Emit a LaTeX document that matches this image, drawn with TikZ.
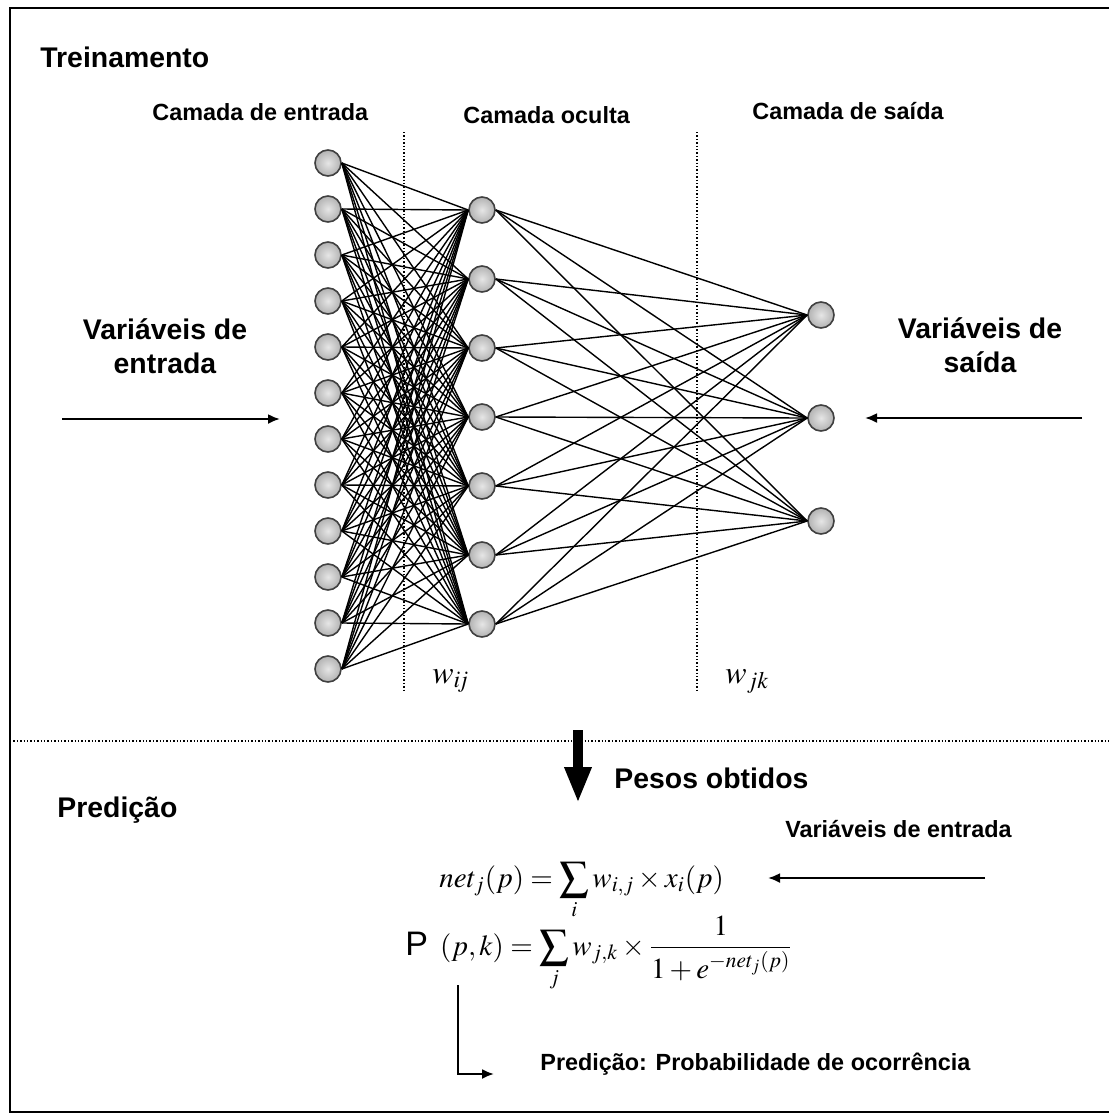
\documentclass[tikz,border=0pt]{standalone}
\usepackage{mathptmx}
\usepackage[no-math]{fontspec}
\newfontfamily\hf{Liberation Sans}
\usetikzlibrary{arrows.meta}
\tikzset{
  neuron/.style={circle, minimum size=13pt, inner sep=0pt, draw=black!75, line width=0.8pt,
    inner color=gray!20, outer color=gray!60},
  edge/.style={line width=0.7pt, black},
  sep/.style={densely dotted, line width=0.7pt},
  arr/.style={line width=1.1pt, -{Latex[length=6pt,width=5pt]}},
  big/.style={font=\hf\bfseries\fontsize{14.2}{17}\selectfont, inner sep=0pt, align=center},
  small/.style={font=\hf\bfseries\fontsize{11.7}{14}\selectfont, inner sep=0pt},
  frm/.style={font=\fontsize{14.5}{17}\selectfont, inner sep=0pt},
  wlab/.style={font=\fontsize{16}{18}\selectfont, inner sep=0pt},
}
\begin{document}
\begin{tikzpicture}[x=0.5pt,y=-0.5pt]
\useasboundingbox (0,0) rectangle (1109,1120);
\clip (0,0) rectangle (1109,1120);
\fill[white] (0,0) rectangle (1109,1120);
\draw[line width=1pt] (10,8) rectangle (1125,1112);

% separators
\coordinate (s1t) at (404,132); \coordinate (s1b) at (404,692);
\coordinate (s2t) at (697,132); \coordinate (s2b) at (697,692);
\draw[sep] (s1t) -- (s1b);
\draw[sep] (s2t) -- (s2b);
\coordinate (hl) at (10,741); \coordinate (hr) at (1109,741);
\draw[sep] (hl) -- (hr);

% neurons
\foreach \k in {1,...,12} \node[neuron] (i\k) at (328,{163+46*(\k-1)}) {};
\foreach \k in {1,...,7} \node[neuron] (h\k) at (482,{210+69*(\k-1)}) {};
\node[neuron] (o1) at (821,315) {};
\node[neuron] (o2) at (821,418) {};
\node[neuron] (o3) at (821,521) {};

\foreach \a in {1,...,12} \foreach \b in {1,...,7} \draw[edge] (i\a.east) -- (h\b.west);
\foreach \b in {1,...,7} \foreach \c in {1,2,3} \draw[edge] (h\b.east) -- (o\c.west);

% labels top
\node[big, anchor=base west] (tr) at (40,67) {Treinamento};
\node[small, anchor=base west] (c1) at (152,120) {Camada de entrada};
\node[small, anchor=base west] (c2) at (463,123) {Camada oculta};
\node[small, anchor=base west] (c3) at (752,119) {Camada de saída};
\node[big, anchor=base] (vin) at (165,373) {Variáveis de\\entrada};
\node[big, anchor=base] (vout) at (980,372) {Variáveis de\\saída};
\node[wlab, anchor=base west] (wij) at (432,683) {$w_{i\!j}$};
\node[wlab, anchor=base west] (wjk) at (725,683) {$w_{jk}$};

\coordinate (ainL) at (62,419); \coordinate (ainR) at (280,419);
\draw[arr] (ainL) -- (ainR);
\coordinate (aoR) at (1082,418); \coordinate (aoL) at (865,418);
\draw[arr] (aoR) -- (aoL);

% bottom part
\coordinate (pt) at (578,730); \coordinate (pb) at (578,803);
\draw[line width=5pt, -{Triangle[length=18pt,width=12.5pt]}] (pt) -- (pb);
\node[big, anchor=base west] (pesos) at (614,788) {Pesos obtidos};
\node[big, anchor=base west] (pred) at (57,817) {Predição};
\node[small, anchor=base east] (vin2) at (1012,837) {Variáveis de entrada};

\node[frm, anchor=base west] (f1) at (439,887) {$\displaystyle net_j(p)=\sum_i w_{i,j}\times x_i(p)$};
\coordinate (fa1) at (985,878); \coordinate (fa2) at (768,878);
\draw[arr] (fa1) -- (fa2);

\node[frm, anchor=base west] (f2) at (405,955) {{\hf\fontsize{17}{20}\selectfont P}\hspace{6pt}$\displaystyle (p,k)=\sum_j w_{j,k}\times\frac{1}{1+e^{-net_j(p)}}$};

\coordinate (e1) at (458,985); \coordinate (e2) at (494,1074);
\draw[arr, line width=1pt] (e1) |- (e2);
\node[small, anchor=base west] (res) at (540,1070) {Predição: Probabilidade de ocorrência};
\end{tikzpicture}
\end{document}
